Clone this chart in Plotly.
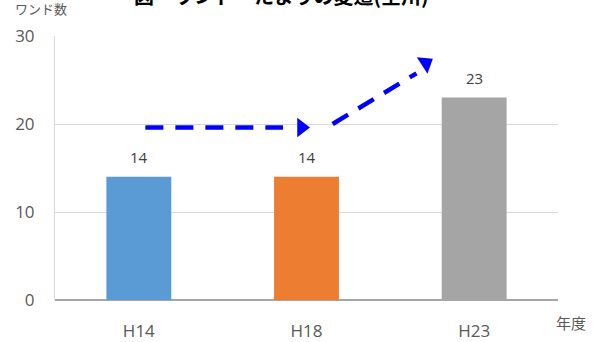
import plotly.graph_objects as go

# Counts of wando / pools by survey year
categories = ["H14", "H18", "H23"]
counts = [14, 14, 23]
bar_colors = ["#5B9BD5", "#ED7D31", "#A5A5A5"]

# Trend arrows (x in category units, y in count units)
flat_x = [0.039, 0.86]
flat_y = [19.6, 19.6]
flat_head = (0.97, 19.6)
rise_x = [1.156, 1.656]
rise_y = [20.0, 25.76]
rise_head = (1.711, 26.9)

y_ticks = [0, 10, 20, 30]
pos = list(range(len(categories)))

fig = go.Figure()
fig.add_trace(go.Bar(
    x=pos, y=counts, width=0.387,
    marker=dict(color=bar_colors, line=dict(width=0)),
    hoverinfo="skip",
))

arrow_blue = "#0000FF"
for xs, ys, head, ang in [(flat_x, flat_y, flat_head, 0), (rise_x, rise_y, rise_head, -33)]:
    fig.add_trace(go.Scatter(
        x=xs, y=ys, mode="lines",
        line=dict(color=arrow_blue, width=4.5, dash="18px,12px"),
        hoverinfo="skip",
    ))
    fig.add_trace(go.Scatter(
        x=[head[0]], y=[head[1]], mode="markers",
        marker=dict(symbol="triangle-right", size=17, angle=ang, color=arrow_blue,
                    line=dict(width=0)),
        hoverinfo="skip",
    ))

# value labels above each bar
value_labels = [
    dict(text=str(v), x=p, y=v, xref="x", yref="y", showarrow=False,
         xanchor="center", yanchor="bottom", yshift=8,
         font=dict(size=15, color="#404040", family="Open Sans"))
    for p, v in zip(pos, counts)
]

fig.update_layout(
    width=597, height=342,
    margin=dict(l=54.5, r=38.5, t=36, b=42),
    paper_bgcolor="white", plot_bgcolor="white",
    showlegend=False,
    font=dict(family="Open Sans", color="#595959"),
    xaxis=dict(
        range=[-0.5, 2.5], tickvals=pos, ticktext=categories,
        showgrid=False, zeroline=False, automargin=False,
        showline=False, ticks="", ticklabelstandoff=19,
        tickfont=dict(size=17, color="#595959"),
    ),
    yaxis=dict(
        range=[0, 30], tickvals=y_ticks, automargin=False,
        showgrid=True, gridcolor="#D9D9D9", gridwidth=1,
        zeroline=True, zerolinecolor="#A6A6A6", zerolinewidth=2,
        showline=True, linecolor="#D9D9D9", linewidth=1,
        ticks="", ticklabelstandoff=16,
        tickfont=dict(size=17, color="#595959"),
    ),
    annotations=value_labels + [
        dict(text="<b>図　ワンド・たまりの変遷(全川)</b>", xref="paper", yref="paper",
             x=0.45, y=1.155, xanchor="center", yanchor="middle", showarrow=False,
             font=dict(size=20, color="#000000", family="Noto Sans CJK JP")),
        dict(text="ワンド数", xref="paper", yref="paper",
             x=-0.0843, y=1.103, xanchor="left", yanchor="middle", showarrow=False,
             font=dict(size=13, color="#595959", family="Noto Sans CJK JP")),
        dict(text="年度", xref="paper", yref="paper",
             x=0.993, y=-0.087, xanchor="left", yanchor="middle", showarrow=False,
             font=dict(size=15, color="#595959", family="Noto Sans CJK JP")),
    ],
)

fig.write_html("out.html")
